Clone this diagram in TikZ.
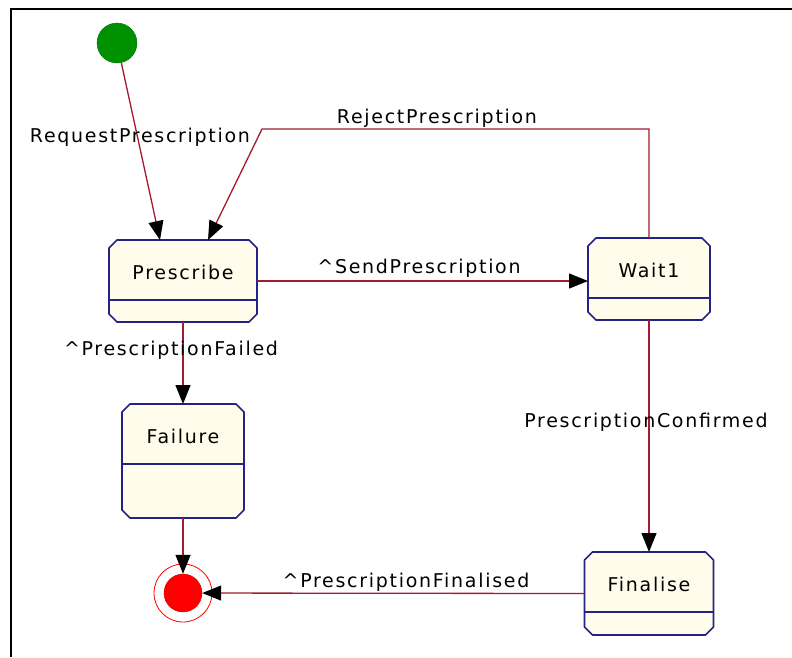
\documentclass[tikz,border=0pt]{standalone}
\usepackage{fontspec}
\newfontfamily\diagfont[LetterSpace=9]{DejaVu Sans}
\usetikzlibrary{arrows.meta,calc}
\definecolor{linkred}{RGB}{165,25,50}
\definecolor{boxblue}{RGB}{35,35,135}
\definecolor{boxfill}{RGB}{255,252,236}
\definecolor{startgreen}{RGB}{0,145,0}
\definecolor{endred}{RGB}{255,0,0}

\tikzset{
  state/.style={draw=none,rectangle,inner sep=0pt,outer sep=0pt},
  statebox/.style={draw=boxblue,fill=boxfill,line width=1.6pt,line join=round},
  statebar/.style={draw=boxblue,line width=1.6pt},
  statetext/.style={font=\diagfont\fontsize{19}{21}\selectfont,anchor=base,inner sep=0pt},
  linklabel/.style={font=\diagfont\fontsize{19}{21}\selectfont,anchor=base,inner sep=0pt},
  link/.style={draw=linkred,line width=1.3pt,-{Triangle[length=19pt,width=15pt,black]}}
}

\begin{document}
\begin{tikzpicture}[x=1pt,y=-1pt]
\useasboundingbox (0,0) rectangle (792,657);
% frame
\draw[line width=2pt] (792,9) -- (11,9) -- (11,657);

% start and end
\node[circle,fill=startgreen,draw=startgreen!80!black,minimum size=40pt,inner sep=0pt] (start) at (117,43) {};
\node[circle,draw=endred,line width=0.8pt,minimum size=58pt,inner sep=0pt] (final) at (183,593) {};
\node[circle,fill=endred,draw=endred!85!black,minimum size=38pt,inner sep=0pt] (finalin) at (final) {};

% states: name/x/top/width/height/text
\foreach \name/\x/\y/\w/\h/\txt in {prescribe/183/240/148/82/Prescribe,
    wait1/649/238/122/82/Wait1,
    failure/183/404/122/114/Failure,
    finalise/649/552/129/83/Finalise}{%
  \node[state,minimum width=\w pt,minimum height=\h pt,anchor=north] (\name) at (\x,\y) {};
  \filldraw[statebox] ($(\name.north west)+(8,0)$) -- ($(\name.north east)+(-8,0)$)
    -- ($(\name.north east)+(0,8)$) -- ($(\name.south east)+(0,-8)$)
    -- ($(\name.south east)+(-8,0)$) -- ($(\name.south west)+(8,0)$)
    -- ($(\name.south west)+(0,-8)$) -- ($(\name.north west)+(0,8)$) -- cycle;
  \node[statetext] (\name-text) at ($(\name.north)+(0,39)$) {\txt};
  \draw[statebar] ($(\name.north west)+(0,60)$) -- ($(\name.north east)+(0,60)$);
}

% transitions
\coordinate (rejectbend) at (262,129);
\draw[link] (start) -- ($(prescribe.north)+(-23,0)$);
\draw[link] (wait1.north) -- (wait1.north |- rejectbend) -- (rejectbend) -- ($(prescribe.north)+(25,0)$);
\draw[link] (prescribe.east) -- (prescribe.east -| wait1.west);
\draw[link] (prescribe.south) -- (failure.north);
\draw[link] (wait1.south) -- (finalise.north);
\draw[link] (failure.south) -- (finalin);
\draw[link] (finalise.west) -- (finalin);

% labels
\node[linklabel] (requestlbl) at (140,142) {RequestPrescription};
\node[linklabel] (rejectlbl) at (437,123) {RejectPrescription};
\node[linklabel] (sendlbl) at (419,273) {\textasciicircum SendPrescription};
\node[linklabel] (failedlbl) at (171,355) {\textasciicircum PrescriptionFailed};
\node[linklabel] (confirmedlbl) at (646,427) {PrescriptionConfirmed};
\node[linklabel] (finalisedlbl) at (406,587) {\textasciicircum PrescriptionFinalised};
\end{tikzpicture}
\end{document}
